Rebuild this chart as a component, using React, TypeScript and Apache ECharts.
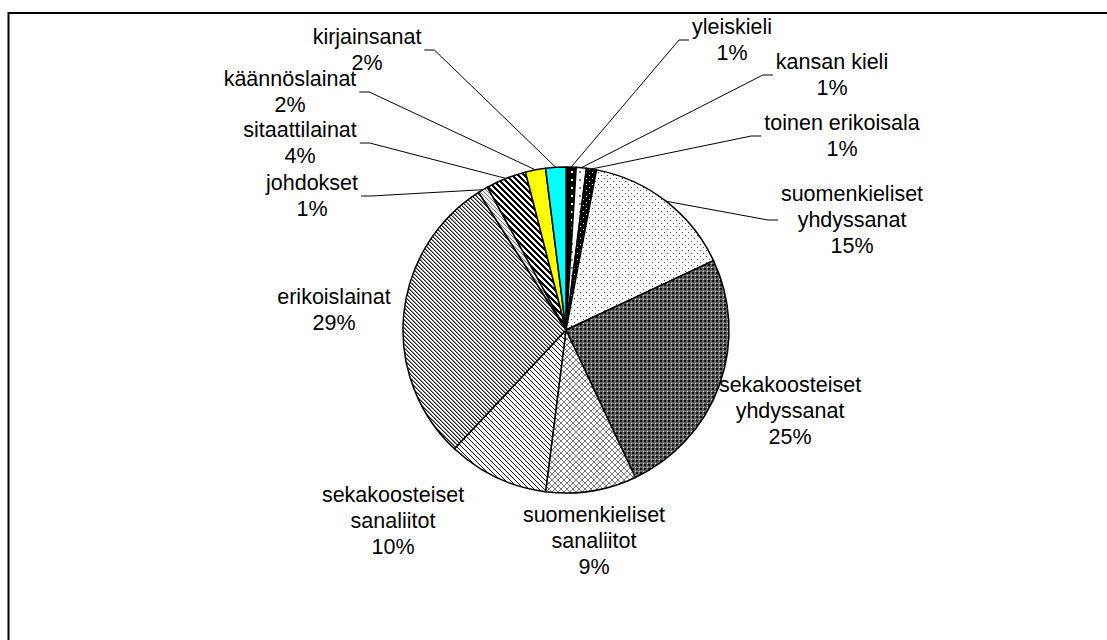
import React, { useEffect, useRef } from 'react';
import * as echarts from 'echarts';

// ---- data ----
const categories = [
  'yleiskieli',
  'kansan kieli',
  'toinen erikoisala',
  'suomenkieliset yhdyssanat',
  'sekakoosteiset yhdyssanat',
  'suomenkieliset sanaliitot',
  'sekakoosteiset sanaliitot',
  'erikoislainat',
  'johdokset',
  'sitaattilainat',
  'käännöslainat',
  'kirjainsanat',
];
const shares = [1, 1, 1, 15, 25, 9, 10, 29, 1, 4, 2, 2];

// ---- layout (not data) ----
const CX = 566;
const CY = 330;
const R = 163;
// label centre x, centre y, leader side (R = label right of pie edge, L = left, N = none)
const labelPlacement: [number, number, string][] = [
  [732, 40, 'R'],
  [832, 75, 'R'],
  [842, 136, 'R'],
  [852, 220, 'R'],
  [790, 411, 'N'],
  [594, 541, 'N'],
  [393, 521, 'N'],
  [334, 310, 'N'],
  [312, 196, 'L'],
  [300, 143, 'L'],
  [290, 92, 'L'],
  [367, 50, 'L'],
];

type Draw = (g: CanvasRenderingContext2D) => void;
function tile(size: number, bg: string, draw: Draw) {
  const c = document.createElement('canvas');
  c.width = size;
  c.height = size;
  const g = c.getContext('2d')!;
  g.fillStyle = bg;
  g.fillRect(0, 0, size, size);
  draw(g);
  return { image: c, repeat: 'repeat', imageWidth: size, imageHeight: size } as any;
}
function px(g: CanvasRenderingContext2D, color: string, pts: number[][]) {
  g.fillStyle = color;
  pts.forEach(([x, y, w = 1, h = 1]) => g.fillRect(x, y, w, h));
}
function diag(size: number, width: number, offset = 0) {
  const pts: number[][] = [];
  for (let i = 0; i < size; i++) {
    for (let k = 0; k < width; k++) pts.push([(i + k + offset) % size, i]);
  }
  return pts;
}

function makeFills() {
  return [
    tile(8, '#000', (g) => px(g, '#fff', [[3, 3, 2, 2]])),
    tile(8, '#fff', (g) => px(g, '#777', [[3, 3, 2, 2]])),
    tile(6, '#000', (g) => px(g, '#fff', [[1, 1, 1, 1], [4, 4, 1, 1]])),
    tile(6, '#fff', (g) => px(g, '#444', [[1, 1, 1, 1], [4, 4, 1, 1]])),
    tile(4, '#666', (g) => {
      px(g, '#111', [[0, 0, 2, 2]]);
      px(g, '#ddd', [[3, 3, 1, 1]]);
    }),
    tile(6, '#fff', (g) => {
      const pts: number[][] = [];
      for (let i = 0; i < 6; i++) {
        pts.push([i, i]);
        pts.push([5 - i, i]);
      }
      px(g, '#777', pts);
    }),
    tile(5, '#fff', (g) => px(g, '#111', diag(5, 1))),
    tile(4, '#fff', (g) => {
      px(g, '#222', diag(4, 1));
      px(g, '#888', diag(4, 1, 1));
    }),
    tile(4, '#eee', (g) => px(g, '#777', diag(4, 1))),
    tile(6, '#fff', (g) => px(g, '#000', diag(6, 3))),
    '#ffff00',
    '#00ffff',
  ];
}

export default function App() {
  const ref = useRef<HTMLDivElement>(null);
  useEffect(() => {
    if (!ref.current) return;
    const chart = echarts.init(ref.current, undefined, { renderer: 'svg' });
    const fills = makeFills();
    const total = shares.reduce((a, b) => a + b, 0);
    const cum: number[] = [];
    shares.reduce((acc, v, i) => {
      cum[i] = acc;
      return acc + v;
    }, 0);

    const data = categories.map((name, i) => ({
      name,
      value: shares[i],
      itemStyle: { color: fills[i] },
      labelLine: { show: labelPlacement[i][2] !== 'N' },
    }));

    chart.setOption({
      animation: false,
      backgroundColor: '#fff',
      graphic: [
        {
          type: 'rect',
          silent: true,
          shape: { x: 8.5, y: 13, width: 1400, height: 1000 },
          style: { fill: 'none', stroke: '#000', lineWidth: 2 },
        },
      ],
      series: [
        {
          type: 'pie',
          center: [CX, CY],
          radius: [0, R],
          startAngle: 90,
          clockwise: true,
          avoidLabelOverlap: false,
          data,
          itemStyle: { borderColor: '#000', borderWidth: 1.5 },
          emphasis: { disabled: true },
          label: {
            show: true,
            position: 'outside',
            color: '#000',
            fontFamily: '"Liberation Sans", Arial, sans-serif',
            fontSize: 21.5,
            lineHeight: 26,
            align: 'center',
            formatter: (p: any) => {
              const nm = p.name.length > 20 ? p.name.replace(' ', '\n') : p.name;
              return nm + '\n' + Math.round(p.percent) + '%';
            },
          },
          labelLine: {
            show: true,
            lineStyle: { color: '#000', width: 1 },
          },
          labelLayout: (p: any) => {
            const i = p.dataIndex;
            const [lx, ly, side] = labelPlacement[i];
            const out: any = { x: lx, y: ly, align: 'center', verticalAlign: 'middle' };
            if (side !== 'N') {
              const w = p.labelRect.width;
              const mid = ((cum[i] + shares[i] / 2) / total) * 2 * Math.PI;
              const ex = CX + R * Math.sin(mid);
              const ey = CY - R * Math.cos(mid);
              const endX = side === 'R' ? lx - w / 2 - 3 : lx + w / 2 + 3;
              const elbowX = side === 'R' ? endX - 10 : endX + 10;
              out.labelLinePoints = [
                [ex, ey],
                [elbowX, ly],
                [endX, ly],
              ];
            }
            return out;
          },
        },
      ],
    });
    return () => chart.dispose();
  }, []);
  return (
    <div
      ref={ref}
      style={{ position: 'absolute', left: 0, top: 0, width: 1107, height: 640 }}
    />
  );
}
